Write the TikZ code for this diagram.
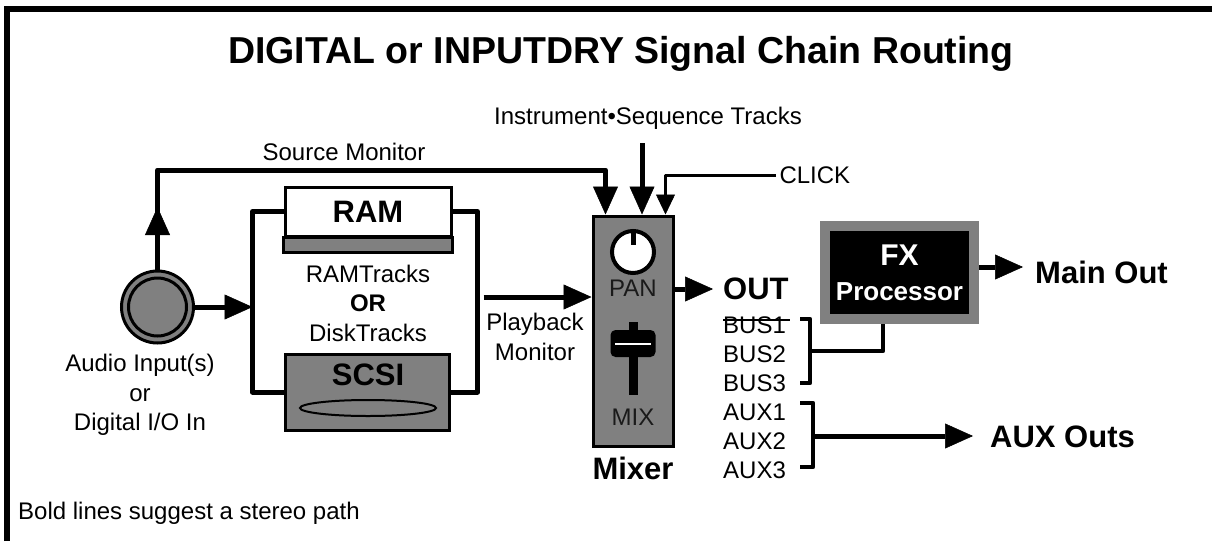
\documentclass[tikz,border=0pt]{standalone}
\usepackage{fontspec}
\setmainfont{Liberation Sans}
\usepackage{tikz}
\usetikzlibrary{arrows.meta,positioning,calc,backgrounds,shapes.geometric}
\definecolor{ink}{HTML}{000000}
\definecolor{midgray}{HTML}{808080}
\definecolor{darkink}{HTML}{1A1A1A}
\tikzset{
  >={Triangle[length=28pt,width=25pt,line width=0.5pt]},
  every node/.style={font=\fontsize{24}{29.5}\selectfont,text=ink},
  heading/.style={font=\fontsize{37.5}{44}\selectfont\bfseries},
  bigbold/.style={font=\fontsize{31}{36}\selectfont\bfseries},
  sig/.style={line width=5pt,draw=ink,line join=round},
  sigarrow/.style={sig,->},
  clickarrow/.style={line width=3pt,draw=ink,line join=round,-{Triangle[length=20pt,width=19pt,line width=0.5pt]}},
  bracket/.style={line width=4.5pt,draw=ink,line join=round},
  block/.style={draw=ink,line width=3pt,fill=midgray,inner sep=0pt},
  busname/.style={anchor=west,inner sep=0pt}
}

\begin{document}
\begin{tikzpicture}[x=1pt,y=-1pt]
  \useasboundingbox (0,0) rectangle (1212,541);
  \draw[line width=6pt] (6.5,541) -- (6.5,9) -- (1212,9);

  \node[heading] (title) at (621,54) {DIGITAL or INPUTDRY Signal Chain Routing};
  \node (instTracks) at (648,118) {Instrument•Sequence Tracks};
  \node (srcLabel) at (344,152) {Source Monitor};
  \node[anchor=west] (clickLabel) at (776,175) {CLICK};

  % audio input
  \node[circle,draw=ink,line width=3pt,fill=midgray,minimum size=72pt] (audioIn) at (157.5,307) {};
  \node[circle,draw=ink,line width=3pt,fill=midgray,minimum size=58pt] (audioCore) at (audioIn) {};
  \node[align=center] (audioLabel) at (140,395) {Audio Input(s)\\or\\Digital I/O In};

  % storage
  \node[block,fill=white,bigbold,minimum width=166pt,minimum height=49pt] (ram) at (368,211.5) {RAM};
  \draw[block] (ram.south west) rectangle ($(ram.south east)+(0,15)$);
  \node[align=center] (tracks) at (368,303) {RAMTracks\\\textbf{OR}\\DiskTracks};
  \node[block,minimum width=164pt,minimum height=76pt] (scsi) at (367,392) {};
  \node[bigbold] (scsiName) at (368,375) {SCSI};
  \node[ellipse,draw=ink,line width=2pt,fill=midgray,minimum width=136pt,minimum height=16pt,inner sep=0pt] (disk) at (368,408) {};
  \coordinate (storeIn) at ($(ram.west)+(-31,0)$);
  \coordinate (storeOut) at ($(ram.east)+(31,0)$);
  \draw[sig] (ram.west) -| (storeIn |- scsi.west) -- (scsi.west);
  \draw[sig] (ram.east) -- ++(25,0) |- (scsi.east);
  \draw[sigarrow] (audioIn.east) -- (audioIn.east -| storeIn);

  % mixer
  \node[block,minimum width=80pt,minimum height=230pt] (mixer) at (633,331) {};
  \node[circle,draw=ink,line width=4pt,fill=white,minimum size=42pt,inner sep=0pt] (knob) at (633,252) {};
  \draw[line width=5pt] (knob.north) -- ++(0,16);
  \node[text=darkink] (panLabel) at (633,288) {PAN};
  \draw[line width=9pt] (633,322) -- (633,395);
  \node[fill=ink,rounded corners=5pt,minimum width=45pt,minimum height=27pt,inner sep=0pt] (fader) at (633,343.5) {};
  \draw[white,line width=2pt] ($(fader.west)+(5,0)$) -- ($(fader.east)+(-5,0)$);
  \node[text=darkink] (mixLabel) at (633,417) {MIX};
  \node[bigbold] (mixerName) at (633,468) {Mixer};

  \coordinate (srcIn) at ($(mixer.north west)+(14,0)$);
  \coordinate (instIn) at (642,143);
  \draw[sigarrow] (audioIn.north) |- (srcIn |- 0,170) -- (srcIn);
  \draw[sigarrow] (audioIn.north) -- (audioIn.north |- 0,207);
  \draw[sigarrow] (instIn) -- (instIn |- mixer.north);
  \draw[clickarrow] (clickLabel.west) -| ($(mixer.north west)+(74,0)$);

  \draw[sigarrow] (storeOut |- 0,297) -- (mixer.west |- 0,297);
  \node[align=center] (playLabel) at (535,337) {Playback\\Monitor};

  % outputs
  \node[bigbold,anchor=west,inner xsep=10pt] (outLabel) at (713,289) {OUT};
  \draw[sigarrow] (mixer.east |- outLabel) -- (outLabel.west);
  \node[busname] (bus1) at (723,325) {BUS1};
  \node[busname] (bus2) at (723,354) {BUS2};
  \node[busname] (bus3) at (723,383) {BUS3};
  \node[busname] (aux1) at (723,412) {AUX1};
  \node[busname] (aux2) at (723,441) {AUX2};
  \node[busname] (aux3) at (723,470) {AUX3};
  \draw[line width=2pt] ($(bus1.north west)+(0,4)$) -- ++(67,0);
  \draw[bracket] (800,319) -| (810,383) -- (800,383);
  \draw[bracket] (800,403) -| (813,467) -- (800,467);
  \coordinate (busTap) at (810,351);
  \coordinate (auxTap) at (813,436);

  \node[fill=ink,draw=midgray,line width=10pt,minimum width=149pt,minimum height=93pt,align=center,text=white,font=\fontsize{30}{35}\selectfont\bfseries,inner sep=0pt] (fx) at (899.5,272.5) {FX\\{\fontsize{26}{35}\selectfont Processor}};
  \node[bigbold,anchor=west,inner xsep=12pt] (mainOut) at (1023,272) {Main Out};
  \node[bigbold,anchor=west,inner xsep=17pt] (auxOuts) at (973,437) {AUX Outs};
  \begin{scope}[on background layer]
    \draw[bracket] (busTap) -| (fx.south -| 883,0);
    \draw[sigarrow] (fx.east |- 0,267) -- (mainOut.west |- 0,267);
  \end{scope}
  \draw[sigarrow] (auxTap) -- (auxOuts.west |- auxTap);

  \node[anchor=west,inner sep=0pt] (note) at (18,513) {Bold lines suggest a stereo path};
\end{tikzpicture}
\end{document}
